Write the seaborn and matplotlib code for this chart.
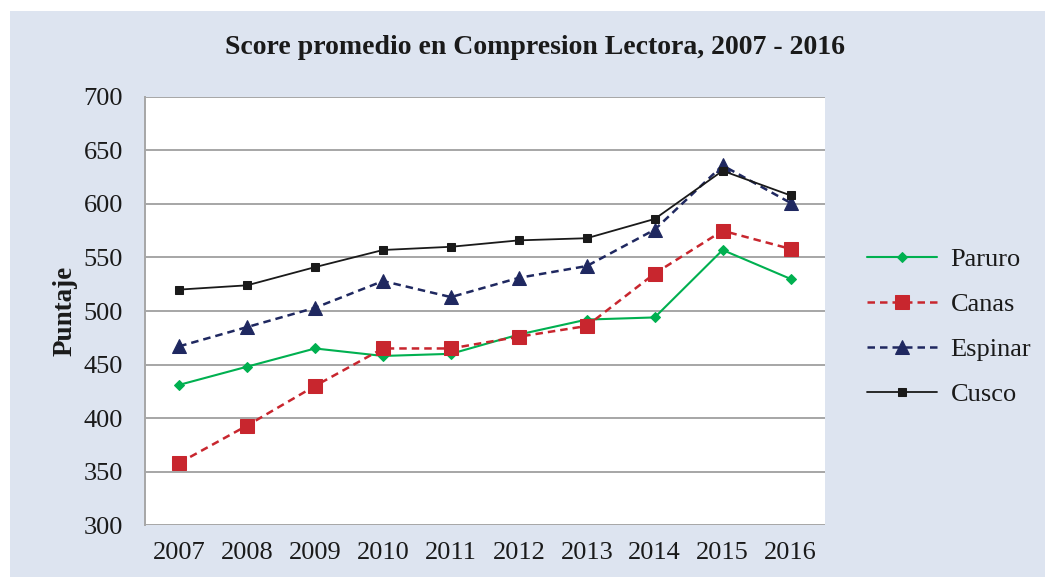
import numpy as np
import pandas as pd
import matplotlib
matplotlib.use("Agg")
import matplotlib.pyplot as plt
from matplotlib.patches import Rectangle
import seaborn as sns

years = ["2007", "2008", "2009", "2010", "2011", "2012", "2013", "2014", "2015", "2016"]
paruro = [431, 448, 465, 458, 460, 478, 492, 494, 557, 530]
canas = [358, 393, 430, 465, 465, 476, 486, 535, 575, 558]
espinar = [467, 485, 503, 528, 513, 531, 542, 576, 636, 601]
cusco = [520, 524, 541, 557, 560, 566, 568, 586, 631, 608]

series = {"Paruro": paruro, "Canas": canas, "Espinar": espinar, "Cusco": cusco}
df = pd.DataFrame([
    {"year": y, "serie": name, "puntaje": v}
    for name, vals in series.items() for y, v in zip(years, vals)
])

sns.set_theme(style="white")
plt.rcParams["font.family"] = ["Liberation Serif", "DejaVu Serif"]

bg = "#dde4f0"
fig = plt.figure(figsize=(10.45, 5.77), dpi=100, facecolor="white")
# light panel behind the chart, leaving a thin white margin top and left
fig.patches.append(Rectangle((10 / 1045, 0), 1, 1 - 11 / 577, transform=fig.transFigure,
                             facecolor=bg, edgecolor="none", zorder=-1))
ax = fig.add_axes([0.139, 0.090, 0.650, 0.742])
ax.set_facecolor("white")

styles = {
    "Paruro": dict(color="#00b050", marker="D", markersize=5, linestyle="-", lw=1.5),
    "Canas": dict(color="#c8262e", marker="s", markersize=10.5, linestyle=(0, (3, 2)), lw=1.8),
    "Espinar": dict(color="#1f2860", marker="^", markersize=10, linestyle=(0, (3, 2)), lw=1.8),
    "Cusco": dict(color="#1a1a1a", marker="s", markersize=6, linestyle="-", lw=1.3),
}

for name in series:
    st = styles[name]
    sub = df[df["serie"] == name]
    sns.lineplot(data=sub, x="year", y="puntaje", ax=ax, color=st["color"],
                 marker=st["marker"], markersize=st["markersize"],
                 markeredgecolor=st["color"], linestyle=st["linestyle"],
                 linewidth=st["lw"], label=name, sort=False)

ax.set_ylim(300, 700)
ax.set_yticks(np.arange(300, 701, 50))
ax.set_xlim(-0.5, len(years) - 0.5)
ax.yaxis.grid(True, color="#a6a6a6", linewidth=1.4)
ax.set_axisbelow(True)
for s in ["top", "right", "bottom"]:
    ax.spines[s].set_visible(False)
ax.spines["left"].set_color("#a6a6a6")
ax.spines["left"].set_linewidth(1.4)
ax.tick_params(axis="both", labelsize=19, colors="#1a1a1a", length=0)
ax.tick_params(axis="y", pad=16)
ax.tick_params(axis="x", pad=12)
ax.set_xlabel("")
ax.set_ylabel("Puntaje", fontsize=19.5, fontweight="bold", color="#1a1a1a", labelpad=4)

fig.suptitle("Score promedio en Compresion Lectora, 2007 - 2016", x=0.512, y=0.94,
             fontsize=20, fontweight="bold", color="#1a1a1a")

leg = ax.legend(loc="center left", bbox_to_anchor=(1.063, 0.463), frameon=False,
                borderaxespad=0, borderpad=0, fontsize=19, handlelength=2.65,
                labelspacing=0.82, handletextpad=0.5)
for t in leg.get_texts():
    t.set_color("#1a1a1a")

fig.savefig("out.png", dpi=100, facecolor="white")
